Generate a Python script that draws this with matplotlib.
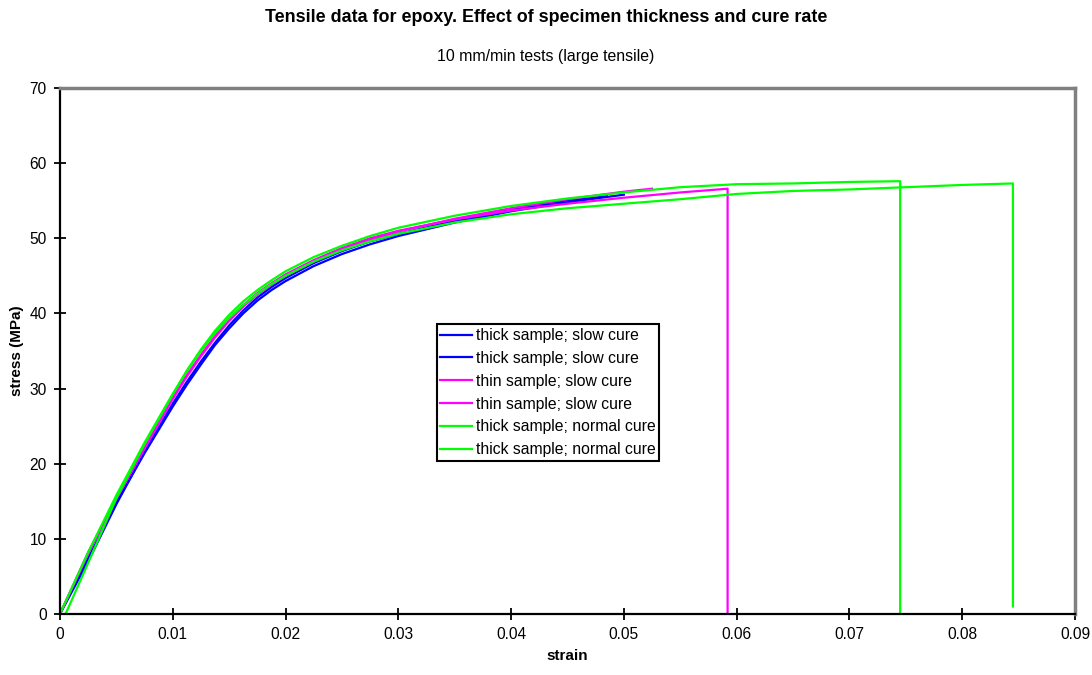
import matplotlib
matplotlib.use("Agg")
import matplotlib.pyplot as plt

plt.rcParams['font.family'] = ['Liberation Sans', 'DejaVu Sans']

# ---- data ----
early = [0.0, 0.0025, 0.005, 0.0075, 0.01, 0.01125, 0.0125, 0.01375, 0.015, 0.01625,
         0.0175, 0.01875, 0.02, 0.0225, 0.025, 0.0275, 0.03]

blue1_strain = early + [0.035, 0.04, 0.045, 0.05]
blue1_stress = [0, 7.4, 14.8, 21.4, 27.6, 30.5, 33.2, 35.8, 38.0, 40.0, 41.7, 43.1, 44.3,
                46.3, 47.9, 49.2, 50.3, 52.1, 53.6, 54.8, 55.8]

blue2_strain = early + [0.035, 0.04, 0.045, 0.0485]
blue2_stress = [0, 7.0, 14.6, 21.6, 28.0, 30.9, 33.6, 36.1, 38.4, 40.4, 42.1, 43.5, 44.7,
                46.7, 48.3, 49.6, 50.6, 52.3, 53.8, 55.0, 55.6]

mag1_strain = early + [0.035, 0.04, 0.045, 0.05, 0.0525]
mag1_stress = [0, 8.2, 15.4, 22.0, 28.6, 31.6, 34.3, 36.8, 39.0, 40.9, 42.5, 43.8, 45.0,
               46.9, 48.5, 49.8, 50.9, 52.6, 54.0, 55.2, 56.2, 56.6]

mag2_strain = early + [0.035, 0.04, 0.045, 0.05, 0.055, 0.0592, 0.0592]
mag2_stress = [0, 8.0, 15.3, 22.1, 28.8, 31.8, 34.5, 37.0, 39.2, 41.1, 42.7, 44.0, 45.2,
               47.1, 48.7, 50.0, 51.0, 52.5, 53.7, 54.6, 55.4, 56.1, 56.6, 0]

green1_strain = [0.0005] + early[1:] + [0.035, 0.04, 0.045, 0.05, 0.055, 0.06, 0.065, 0.07,
                                        0.0745, 0.0745]
green1_stress = [0, 6.8, 15.4, 22.6, 29.2, 32.4, 35.2, 37.7, 39.8, 41.6, 43.1, 44.4, 45.6,
                 47.5, 49.0, 50.3, 51.4, 53.0, 54.3, 55.3, 56.1, 56.8, 57.2, 57.3, 57.5, 57.6, 0]

green2_strain = early + [0.035, 0.04, 0.045, 0.05, 0.055, 0.06, 0.065, 0.07, 0.075, 0.08,
                         0.0845, 0.0845]
green2_stress = [0, 8.2, 15.8, 22.8, 29.3, 32.3, 35.0, 37.4, 39.4, 41.1, 42.6, 43.9, 45.0,
                 46.9, 48.4, 49.6, 50.6, 52.1, 53.2, 54.0, 54.6, 55.2, 55.9, 56.3, 56.5,
                 56.8, 57.1, 57.3, 1.0]

labels = ["thick sample; slow cure", "thick sample; slow cure",
          "thin sample; slow cure", "thin sample; slow cure",
          "thick sample; normal cure", "thick sample; normal cure"]
colors = ["#0000FF", "#0000FF", "#FF00FF", "#FF00FF", "#00FF00", "#00FF00"]

x_ticks = [0, 0.01, 0.02, 0.03, 0.04, 0.05, 0.06, 0.07, 0.08, 0.09]
x_ticklabels = ["0", "0.01", "0.02", "0.03", "0.04", "0.05", "0.06", "0.07", "0.08", "0.09"]
y_ticks = [0, 10, 20, 30, 40, 50, 60, 70]

series = [(blue1_strain, blue1_stress), (blue2_strain, blue2_stress),
          (mag1_strain, mag1_stress), (mag2_strain, mag2_stress),
          (green1_strain, green1_stress), (green2_strain, green2_stress)]

# ---- figure ----
fig = plt.figure(figsize=(10.92, 6.75), dpi=100)
ax = fig.add_axes([0.0549, 0.0904, 0.9295, 0.7792])

for (sx, sy), lab, c in zip(series, labels, colors):
    ax.plot(sx, sy, color=c, lw=1.6, label=lab)

ax.set_xlim(0, 0.09)
ax.set_ylim(0, 70)
ax.set_xticks(x_ticks)
ax.set_xticklabels(x_ticklabels)
ax.set_yticks(y_ticks)
ax.tick_params(direction='inout', length=9, width=1.3, labelsize=11.2, color='black', pad=5)

for s in ['left', 'bottom']:
    ax.spines[s].set_color('black')
    ax.spines[s].set_linewidth(1.6)
for s in ['top', 'right']:
    ax.spines[s].set_color('#808080')
    ax.spines[s].set_linewidth(2.5)

ax.set_xlabel("strain", fontsize=11, fontweight='bold', labelpad=5)
ax.set_ylabel("stress (MPa)", fontsize=11, fontweight='bold', labelpad=4)

fig.text(0.5, 1 - 18 / 675, "Tensile data for epoxy. Effect of specimen thickness and cure rate",
         ha='center', va='center', fontsize=12.9, fontweight='bold')
fig.text(0.5, 1 - 57 / 675, "10 mm/min tests (large tensile)",
         ha='center', va='center', fontsize=11.4)

leg = ax.legend(loc='upper left', bbox_to_anchor=(0.371, 0.551), fontsize=11.3,
                frameon=True, fancybox=False, edgecolor='black', framealpha=1,
                handlelength=2.0, handletextpad=0.25, labelspacing=0.5,
                borderpad=0.25, borderaxespad=0)
leg.get_frame().set_linewidth(1.5)

fig.savefig("out.png", dpi=100)
